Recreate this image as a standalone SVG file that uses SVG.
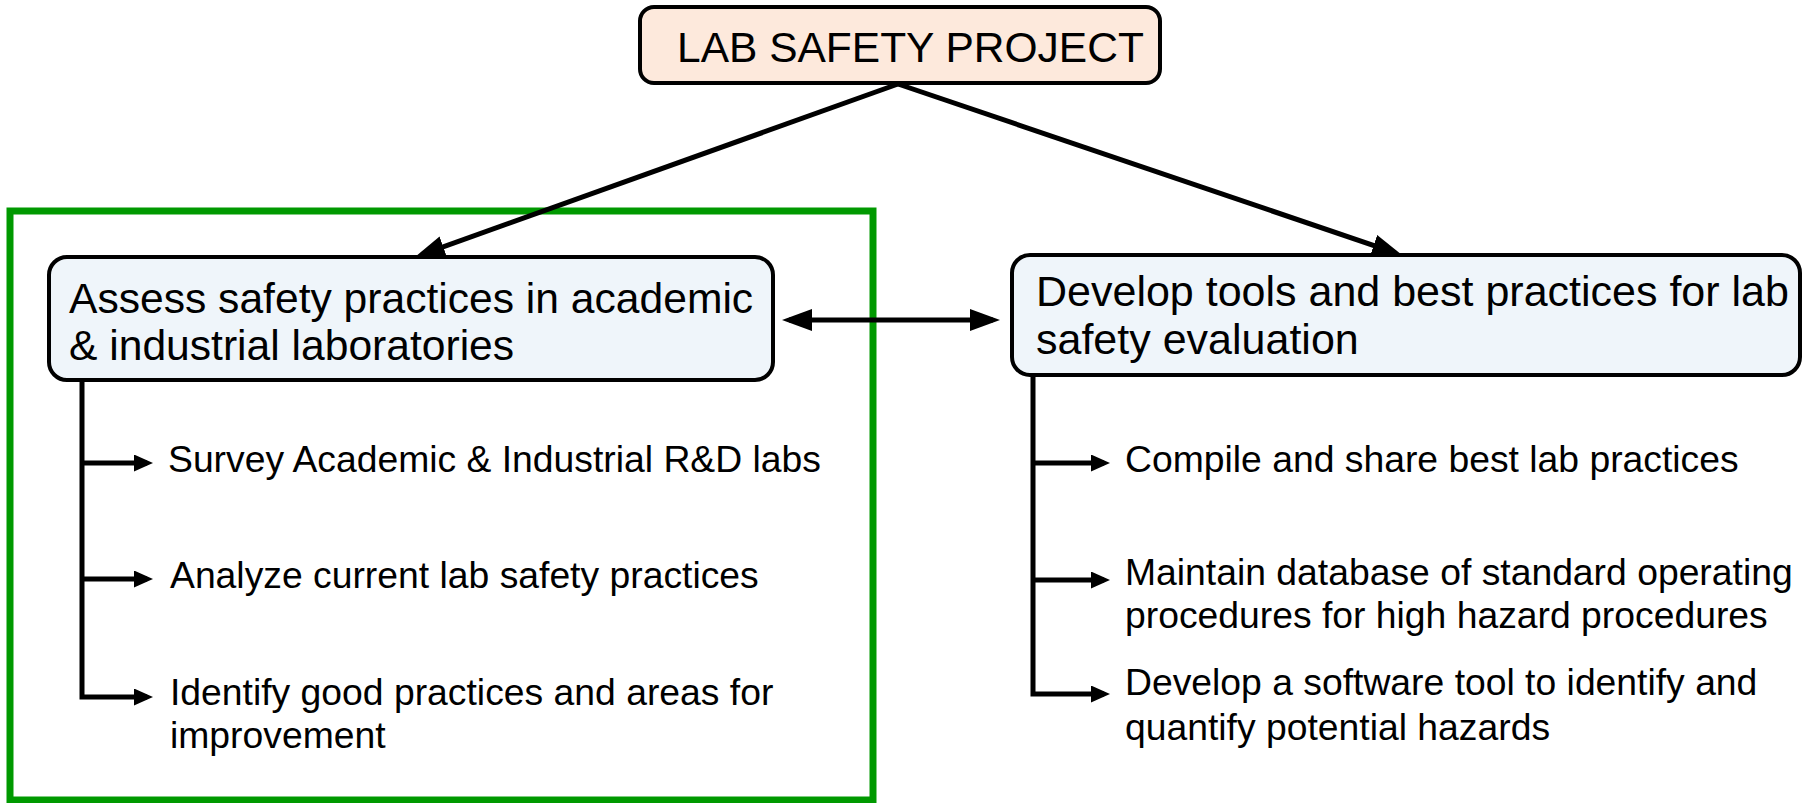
<svg xmlns="http://www.w3.org/2000/svg" width="1809" height="803" viewBox="0 0 1809 803">
<defs>
<style>
.t{font-family:"Liberation Sans",Arial,sans-serif;fill:#000}
.top{font-size:42.5px}
.big{font-size:43px}
.bigl{font-size:42.6px}
.item{font-size:37.3px}
.box{fill:#eff5fa;stroke:#000;stroke-width:4}
.conn{stroke:#000;fill:none}
.thick{stroke-width:5}
.thin{stroke-width:5}
</style>
<marker id="ah" viewBox="0 0 30 22" refX="23" refY="11" markerWidth="30" markerHeight="22" markerUnits="userSpaceOnUse" orient="auto-start-reverse">
<path d="M0,0 L30,11 L0,22 z" fill="#000"/>
</marker>
<marker id="as" viewBox="0 0 19 17" refX="13" refY="8.5" markerWidth="19" markerHeight="17" markerUnits="userSpaceOnUse" orient="auto">
<path d="M0,0 L19,8.5 L0,17 z" fill="#000"/>
</marker>
</defs>
<rect width="1809" height="803" fill="#fff"/>
<g id="group-frame">
<rect x="10" y="211" width="863" height="589" fill="none" stroke="#009900" stroke-width="7"/>
</g>
<g id="connectors">
<line class="conn thick" x1="898" y1="84" x2="421.6" y2="254.6" marker-end="url(#ah)"/>
<line class="conn thick" x1="898" y1="84" x2="1395.4" y2="252.8" marker-end="url(#ah)"/>
<line class="conn thick" x1="789" y1="320" x2="993" y2="320" marker-start="url(#ah)" marker-end="url(#ah)"/>
<path class="conn thin" d="M82,380 V697 H147" marker-end="url(#as)"/>
<line class="conn thin" x1="82" y1="463" x2="147" y2="463" marker-end="url(#as)"/>
<line class="conn thin" x1="82" y1="579" x2="147" y2="579" marker-end="url(#as)"/>
<path class="conn thin" d="M1033,375 V694 H1104" marker-end="url(#as)"/>
<line class="conn thin" x1="1033" y1="463" x2="1104" y2="463" marker-end="url(#as)"/>
<line class="conn thin" x1="1033" y1="580" x2="1104" y2="580" marker-end="url(#as)"/>
</g>
<g id="node-root">
<rect x="640" y="7" width="520" height="76" rx="14" fill="#fde9dc" stroke="#000" stroke-width="4"/>
<text class="t top" x="677" y="62">LAB SAFETY PROJECT</text>
</g>
<g id="node-assess">
<rect class="box" x="49" y="257" width="724" height="123" rx="18"/>
<text class="t bigl" x="69" y="313">Assess safety practices in academic</text>
<text class="t bigl" x="69" y="360">&amp; industrial laboratories</text>
</g>
<g id="node-develop">
<rect class="box" x="1012" y="255" width="788" height="120" rx="18"/>
<text class="t big" x="1036" y="306">Develop tools and best practices for lab</text>
<text class="t big" x="1036" y="354">safety evaluation</text>
</g>
<g id="node-survey"><text class="t item" x="168" y="472">Survey Academic &amp; Industrial R&amp;D labs</text></g>
<g id="node-analyze"><text class="t item" x="170" y="588">Analyze current lab safety practices</text></g>
<g id="node-identify"><text class="t item" x="170" y="705">Identify good practices and areas for</text><text class="t item" x="170" y="748">improvement</text></g>
<g id="node-compile"><text class="t item" x="1125" y="472">Compile and share best lab practices</text></g>
<g id="node-maintain"><text class="t item" x="1125" y="585">Maintain database of standard operating</text><text class="t item" x="1125" y="628">procedures for high hazard procedures</text></g>
<g id="node-software"><text class="t item" x="1125" y="695">Develop a software tool to identify and</text><text class="t item" x="1125" y="740">quantify potential hazards</text></g>
</svg>
